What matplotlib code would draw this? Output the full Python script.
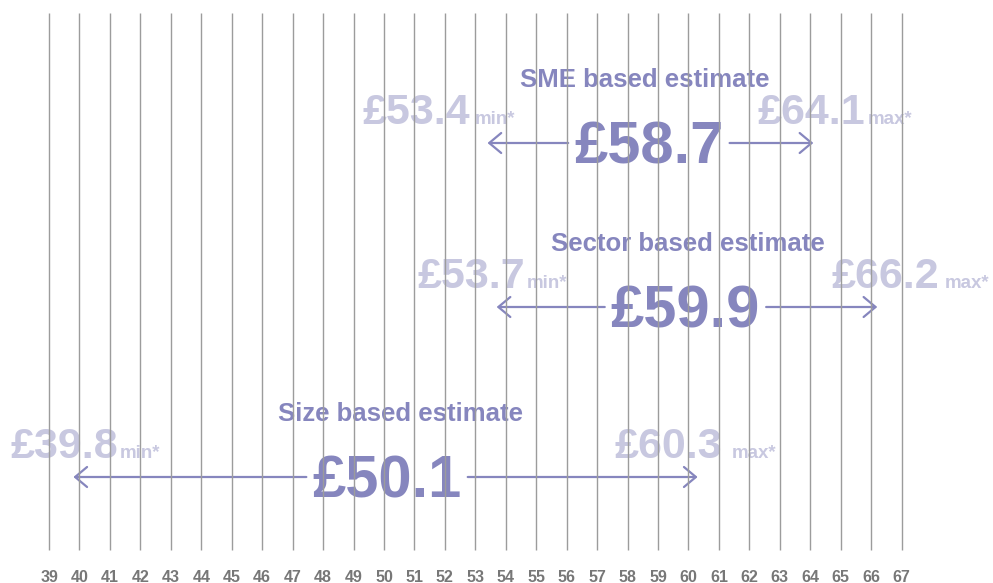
import matplotlib
matplotlib.use("Agg")
import matplotlib.pyplot as plt

plt.rcParams['font.family'] = ['Liberation Sans', 'DejaVu Sans']

# scale ticks
ticks = list(range(39, 68))

# estimates (GBP)
names = ["SME based estimate", "Sector based estimate", "Size based estimate"]
centre = [58.7, 59.9, 50.1]
low = [53.4, 53.7, 39.8]
high = [64.1, 66.2, 60.3]

# layout: rows in pixel-like y units (axis is inverted, 0 at top)
arrow_y = [143, 307, 477]
title_x = [58.57, 59.98, 50.53]
min_right = [52.82, 54.63, 41.27]
max_left = [62.25, 64.71, 57.58]
min_tag_x = [52.98, 54.70, 41.33]
max_tag_x = [65.89, 68.42, 61.43]

DARK = "#8686be"
LIGHT = "#c8c8e0"
GREY = "#777777"

fig = plt.figure(figsize=(9.93, 5.83), dpi=100)
ax = fig.add_axes([0, 0, 1, 1])
ax.set_xlim(37.39, 70.0)
ax.set_ylim(583, 0)
ax.axis("off")

# the grid lines sit on top of the labels, as in the original
ax.vlines(ticks, 13, 550, color="#9c9c9c", lw=1.0, zorder=5)
for t in ticks:
    ax.text(t, 577, str(t), ha="center", va="center", fontsize=11.5,
            fontweight="bold", color=GREY)

gap = 2.65  # distance from the centre label to the arrow start (data units)
for i in range(len(names)):
    y = arrow_y[i]
    ax.text(title_x[i], y - 56, names[i], ha="center", va="baseline",
            fontsize=18.5, fontweight="bold", color=DARK, zorder=3)
    ax.text(centre[i], y + 20, "£%.1f" % centre[i], ha="center", va="baseline",
            fontsize=43, fontweight="bold", color=DARK, zorder=3)
    ax.text(min_right[i], y - 19, "£%.1f" % low[i], ha="right", va="baseline",
            fontsize=31, fontweight="bold", color=LIGHT, zorder=2)
    ax.text(min_tag_x[i], y - 19, "min*", ha="left", va="baseline",
            fontsize=13.5, fontweight="bold", color=LIGHT, zorder=2)
    ax.text(max_left[i], y - 19, "£%.1f" % high[i], ha="left", va="baseline",
            fontsize=31, fontweight="bold", color=LIGHT, zorder=2)
    ax.text(max_tag_x[i], y - 19, "max*", ha="left", va="baseline",
            fontsize=13.5, fontweight="bold", color=LIGHT, zorder=2)

    style = dict(arrowstyle="->,head_length=0.43,head_width=0.36",
                 color=DARK, lw=1.6, shrinkA=0, shrinkB=0, mutation_scale=20)
    ax.annotate("", xy=(low[i], y), xytext=(centre[i] - gap, y),
                arrowprops=style, zorder=3)
    ax.annotate("", xy=(high[i], y), xytext=(centre[i] + gap, y),
                arrowprops=style, zorder=3)

fig.savefig("out.png", dpi=100, facecolor="white")
